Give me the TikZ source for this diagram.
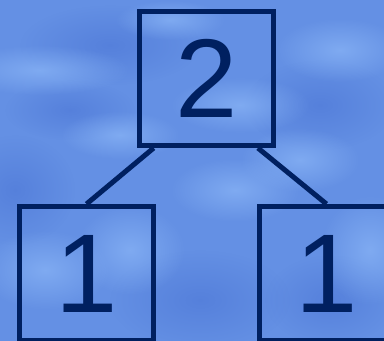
\documentclass[tikz,border=0pt]{standalone}
\usepackage{fontspec}
\setmainfont{Liberation Sans}
\usetikzlibrary{positioning,calc,backgrounds,fadings}
\definecolor{navy}{RGB}{0,32,96}
\definecolor{skybase}{RGB}{100,144,228}
\definecolor{skylight}{RGB}{145,188,250}
\definecolor{skydark}{RGB}{76,118,214}
\tikzfading[name=puff, inner color=transparent!0, outer color=transparent!100]
\tikzset{
  cell/.style ={rectangle, draw=navy, line width=5pt, minimum size=134pt,
                inner sep=0pt, text=navy, font=\fontsize{112}{112}\selectfont},
  link/.style ={draw=navy, line width=5pt},
  puffy/.style={path fading=puff, opacity=0.6},
}
\begin{document}
\begin{tikzpicture}[x=1pt, y=1pt]
    \useasboundingbox (0,0) rectangle (384,-341);

    % nodes
    \node[cell] (top) at (206.5,-78.5) {2};
    \node[cell, below=56pt of top, xshift=-120pt] (lft) {1};
    \node[cell, below=56pt of top, xshift=120pt] (rgt) {1};

    % links
    \draw[link] (lft.north) -- ($(top.south west)!0.12!(top.south east)$);
    \draw[link] (rgt.north) -- ($(top.south west)!0.87!(top.south east)$);

    % sky
    \begin{scope}[on background layer]
      \clip (0,0) rectangle (384,-341);
      \fill[skybase] (0,0) rectangle (384,-341);
      \foreach \cx/\cy/\rx/\ry/\col in {
          110/-45/90/40/skydark, 320/-105/75/45/skydark, 15/-190/60/55/skydark,
          200/-300/90/50/skydark, 70/-110/65/30/skydark, 330/-300/65/45/skydark,
          40/-70/90/25/skylight, 240/-105/70/28/skylight, 340/-50/65/32/skylight,
          300/-160/60/32/skylight, 235/-190/65/32/skylight, 45/-270/65/40/skylight,
          130/-250/55/45/skylight, 370/-250/50/55/skylight, 120/-135/60/24/skylight,
          170/-20/55/20/skylight}
        \fill[\col, puffy] (\cx,\cy) ellipse ({\rx} and {\ry});
    \end{scope}
    \clip (0,0) rectangle (384,-341);
\end{tikzpicture}
\end{document}
